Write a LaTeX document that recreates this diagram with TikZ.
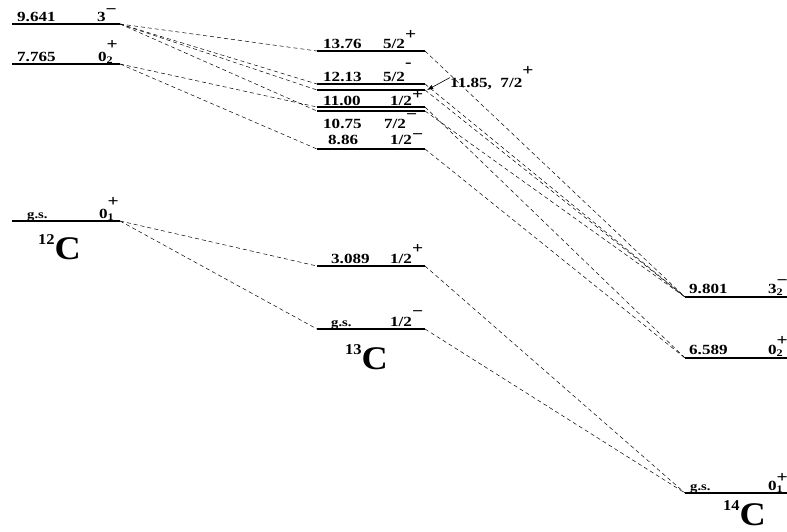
\documentclass[tikz,border=0pt]{standalone}
\usepackage{fontspec}
\setmainfont{Liberation Serif}[FakeStretch=1.22]
\newfontfamily\nucfont{Liberation Serif}[FakeStretch=1.1]
\usetikzlibrary{arrows.meta}

% J^pi, optional raise of the parity sign
\newcommand{\jp}[3][10pt]{#2\raisebox{#1}{\fontsize{16}{16}\selectfont #3}}
% J^pi with a subscript
\newcommand{\jps}[4][10pt]{#2\rlap{\raisebox{-2.5pt}{\fontsize{10}{10}\selectfont #3}}\raisebox{#1}{\fontsize{16}{16}\selectfont #4}}
% nucleus name
\newcommand{\nucl}[2]{\raisebox{15pt}{\fontsize{15}{15}\selectfont #1}#2}

\begin{document}
\begin{tikzpicture}[x=1pt, y=-1pt,
    every node/.style={font=\bfseries\fontsize{14}{14}\selectfont, inner sep=0pt},
    lbl/.style={anchor=base west},
    gs/.style={anchor=base west, font=\bfseries\fontsize{12}{12}\selectfont},
    nuc/.style={anchor=base west, font=\nucfont\bfseries\fontsize{33}{33}\selectfont},
    level/.style={minimum height=0pt, outer sep=0pt, minimum width=#1,
        append after command={(\tikzlastnode.west) edge[line width=1.1pt] (\tikzlastnode.east)}},
    level/.default=108pt,
    link/.style={dash pattern=on 4pt off 3pt, line width=0.5pt},
    arrow/.style={-{Latex[length=2.2mm, width=1.6mm]}, line width=0.6pt}
]
    \useasboundingbox (0,0) rectangle (787,531);

    % ---- 12C ----
    \node[level] (c12s9641) at (66,24) {};
    \node[level] (c12s7765) at (66,64) {};
    \node[level] (c12gs) at (66,221) {};
    \node[lbl] (e9641) at (17,21) {9.641};
    \node[lbl] (j9641) at (97,21) {\jp[7pt]{3}{−}};
    \node[lbl] (e7765) at (17,61) {7.765};
    \node[lbl] (j7765) at (98,61) {\jps[12pt]{0}{2}{+}};
    \node[gs] (e12gs) at (27,218) {g.s.};
    \node[lbl] (j12gs) at (99,218) {\jps[12pt]{0}{1}{+}};
    \node[nuc] (n12) at (38,259) {\nucl{12}{C}};

    % ---- 13C ----
    \node[level] (c13s1376) at (371,51) {};
    \node[level] (c13s1213) at (371,84) {};
    \node[level] (c13s1185) at (371,90) {};
    \node[level] (c13s1100) at (371,107) {};
    \node[level] (c13s1075) at (371,111) {};
    \node[level] (c13s886) at (371,149) {};
    \node[level] (c13s3089) at (371,266) {};
    \node[level] (c13gs) at (371,329) {};
    \node[lbl] (e1376) at (323,48) {13.76};
    \node[lbl] (j1376) at (383,48) {\jp[9pt]{5/2}{+}};
    \node[lbl] (e1213) at (323,81) {12.13};
    \node[lbl] (j1213) at (383,81) {\jp[14pt]{5/2}{-}};
    \node[lbl] (e1100) at (323,105) {11.00};
    \node[lbl] (j1100) at (390,105) {\jp[6pt]{1/2}{+}};
    \node[lbl] (e1075) at (323,128) {10.75};
    \node[lbl] (j1075) at (384,128) {\jp[9pt]{7/2}{−}};
    \node[lbl] (e886) at (328,144) {8.86};
    \node[lbl] (j886) at (390,144) {\jp[4.5pt]{1/2}{−}};
    \node[lbl] (e3089) at (331,263) {3.089};
    \node[lbl] (j3089) at (390,263) {\jp[10pt]{1/2}{+}};
    \node[gs] (e13gs) at (331,326) {g.s.};
    \node[lbl] (j13gs) at (390,326) {\jp[10pt]{1/2}{−}};
    \node[nuc] (n13) at (345,369) {\nucl{13}{C}};
    \node[lbl] (c1185) at (450,87) {11.85,\ \ \jp[12pt]{7/2}{+}};
    \draw[arrow] (c1185.west) -- ([xshift=2pt]c13s1185.east);

    % ---- 14C ----
    \node[level=102pt] (c14s9801) at (736,297) {};
    \node[level=102pt] (c14s6589) at (736,358) {};
    \node[level=102pt] (c14gs) at (736,493) {};
    \node[lbl] (e9801) at (689,293) {9.801};
    \node[lbl] (j9801) at (768,293) {\jps[8pt]{3}{2}{−}};
    \node[lbl] (e6589) at (689,354) {6.589};
    \node[lbl] (j6589) at (768,354) {\jps[9pt]{0}{2}{+}};
    \node[gs] (e14gs) at (690,490) {g.s.};
    \node[lbl] (j14gs) at (768,490) {\jps[8pt]{0}{1}{+}};
    \node[nuc] (n14) at (723,525) {\nucl{14}{C}};

    % ---- 12C -> 13C ----
    \draw[link] (c12s9641.east) -- (c13s1376.west);
    \draw[link] (c12s9641.east) -- (c13s1213.west);
    \draw[link] (c12s9641.east) -- (c13s1185.west);
    \draw[link] (c12s9641.east) -- (c13s1075.west);
    \draw[link] (c12s7765.east) -- (c13s1100.west);
    \draw[link] (c12s7765.east) -- (c13s886.west);
    \draw[link] (c12gs.east) -- (c13s3089.west);
    \draw[link] (c12gs.east) -- (c13gs.west);

    % ---- 13C -> 14C ----
    \draw[link] (c13s1376.east) -- (c14s9801.west);
    \draw[link] (c13s1213.east) -- (c14s9801.west);
    \draw[link] (c13s1185.east) -- (c14s9801.west);
    \draw[link] (c13s1075.east) -- (c14s9801.west);
    \draw[link] (c13s1100.east) -- (c14s6589.west);
    \draw[link] (c13s886.east) -- (c14s6589.west);
    \draw[link] (c13s3089.east) -- (c14gs.west);
    \draw[link] (c13gs.east) -- (c14gs.west);

\end{tikzpicture}
\end{document}
